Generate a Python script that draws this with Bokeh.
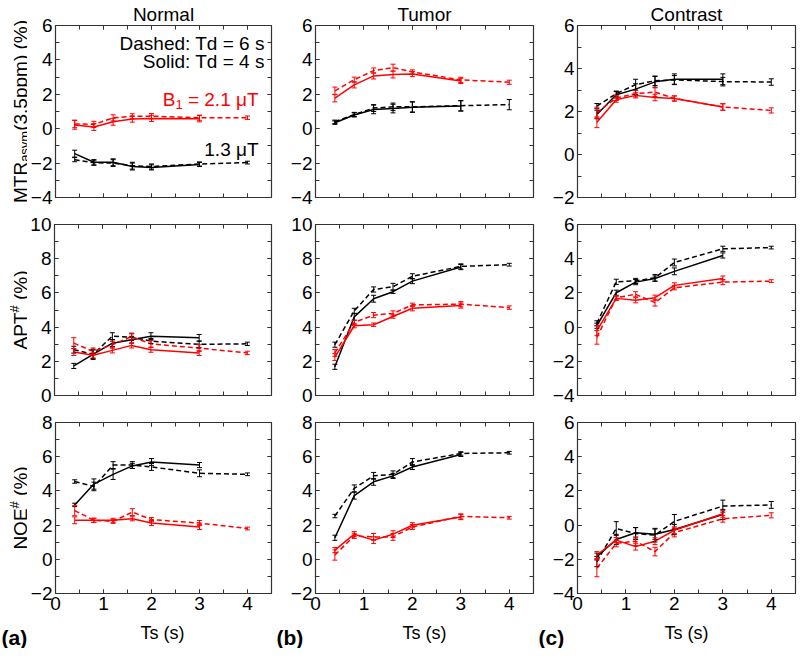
import math
from bokeh.plotting import figure
from bokeh.layouts import row, column
from bokeh.models import (Range1d, LinearAxis, FixedTicker, Label, Whisker, TeeHead, ColumnDataSource,
                          CustomJSTickFormatter)
from bokeh.embed import file_html
from bokeh.resources import INLINE

# ---------------- data ----------------
TS_TD4 = [0.4, 0.8, 1.2, 1.6, 2.0, 3.0]          # solid lines, Td = 4 s
TS_TD6 = [0.4, 0.8, 1.2, 1.6, 2.0, 3.0, 4.0]     # dashed lines, Td = 6 s
COLUMN_TITLES = ["Normal", "Tumor", "Contrast"]
PANEL_LETTERS = ["(a)", "(b)", "(c)"]
X_LABEL = "Ts (s)"
X_TICKS = [0, 1, 2, 3, 4]
X_LIMITS = (0, 4.5)
Y_LIMITS = [[(-4, 6), (-4, 6), (-2, 6)],
            [(0, 10), (0, 10), (-4, 6)],
            [(-2, 8), (-2, 8), (-4, 6)]]

# MTRasym(3.5ppm) -- row 1   (13 = 1.3 uT black, 21 = 2.1 uT red)
mtr_normal_13_td4 = [-1.45, -1.95, -1.95, -2.2, -2.25, -2.08]
mtr_normal_13_td4_err = [0.2, 0.15, 0.2, 0.2, 0.15, 0.12]
mtr_normal_13_td6 = [-1.8, -1.98, -2.0, -2.15, -2.2, -2.05, -1.97]
mtr_normal_13_td6_err = [0.12, 0.15, 0.2, 0.2, 0.15, 0.12, 0.08]
mtr_normal_21_td4 = [0.22, 0.1, 0.4, 0.56, 0.6, 0.58]
mtr_normal_21_td4_err = [0.25, 0.2, 0.2, 0.18, 0.18, 0.18]
mtr_normal_21_td6 = [0.28, 0.25, 0.63, 0.72, 0.73, 0.64, 0.64]
mtr_normal_21_td6_err = [0.22, 0.18, 0.18, 0.15, 0.15, 0.15, 0.1]

mtr_tumor_13_td4 = [0.35, 0.8, 1.12, 1.17, 1.25, 1.32]
mtr_tumor_13_td4_err = [0.1, 0.12, 0.25, 0.25, 0.3, 0.3]
mtr_tumor_13_td6 = [0.4, 0.83, 1.2, 1.27, 1.27, 1.34, 1.4]
mtr_tumor_13_td6_err = [0.1, 0.12, 0.2, 0.22, 0.3, 0.3, 0.3]
mtr_tumor_21_td4 = [1.78, 2.55, 3.07, 3.15, 3.18, 2.78]
mtr_tumor_21_td4_err = [0.22, 0.18, 0.18, 0.2, 0.15, 0.15]
mtr_tumor_21_td6 = [2.2, 2.85, 3.38, 3.55, 3.3, 2.84, 2.7]
mtr_tumor_21_td6_err = [0.22, 0.15, 0.15, 0.2, 0.12, 0.15, 0.12]

mtr_contrast_13_td4 = [1.86, 2.78, 3.04, 3.38, 3.5, 3.5]
mtr_contrast_13_td4_err = [0.2, 0.15, 0.25, 0.25, 0.25, 0.25]
mtr_contrast_13_td6 = [2.25, 2.83, 3.25, 3.43, 3.47, 3.39, 3.37]
mtr_contrast_13_td6_err = [0.12, 0.12, 0.25, 0.22, 0.2, 0.2, 0.15]
mtr_contrast_21_td4 = [1.5, 2.55, 2.75, 2.65, 2.6, 2.21]
mtr_contrast_21_td4_err = [0.25, 0.12, 0.12, 0.15, 0.12, 0.15]
mtr_contrast_21_td6 = [1.95, 2.63, 2.83, 2.9, 2.61, 2.21, 2.05]
mtr_contrast_21_td6_err = [0.25, 0.12, 0.15, 0.2, 0.12, 0.15, 0.12]

# APT# -- row 2
apt_normal_13_td4 = [1.73, 2.41, 3.06, 3.26, 3.47, 3.37]
apt_normal_13_td4_err = [0.15, 0.3, 0.2, 0.2, 0.2, 0.2]
apt_normal_13_td6 = [2.68, 2.41, 3.47, 3.41, 3.18, 2.99, 3.02]
apt_normal_13_td6_err = [0.2, 0.25, 0.2, 0.2, 0.15, 0.2, 0.1]
apt_normal_21_td4 = [2.54, 2.35, 2.64, 2.93, 2.68, 2.49]
apt_normal_21_td4_err = [0.2, 0.15, 0.15, 0.15, 0.15, 0.15]
apt_normal_21_td6 = [3.06, 2.58, 2.97, 3.45, 3.02, 2.77, 2.49]
apt_normal_21_td6_err = [0.32, 0.2, 0.2, 0.2, 0.2, 0.2, 0.1]

apt_tumor_13_td4 = [1.68, 4.6, 5.66, 6.07, 6.69, 7.51]
apt_tumor_13_td4_err = [0.15, 0.2, 0.2, 0.1, 0.15, 0.15]
apt_tumor_13_td6 = [2.97, 4.95, 6.2, 6.36, 6.97, 7.55, 7.65]
apt_tumor_13_td6_err = [0.15, 0.15, 0.15, 0.2, 0.15, 0.15, 0.08]
apt_tumor_21_td4 = [2.25, 4.08, 4.14, 4.62, 5.1, 5.26]
apt_tumor_21_td4_err = [0.2, 0.12, 0.1, 0.1, 0.15, 0.15]
apt_tumor_21_td6 = [2.49, 4.28, 4.7, 4.8, 5.3, 5.34, 5.14]
apt_tumor_21_td6_err = [0.2, 0.12, 0.15, 0.15, 0.1, 0.15, 0.1]

apt_contrast_13_td4 = [0.08, 2.01, 2.63, 2.84, 3.26, 4.19]
apt_contrast_13_td4_err = [0.15, 0.15, 0.15, 0.15, 0.2, 0.15]
apt_contrast_13_td6 = [0.22, 2.65, 2.7, 2.88, 3.78, 4.58, 4.65]
apt_contrast_13_td6_err = [0.15, 0.15, 0.15, 0.2, 0.2, 0.15, 0.08]
apt_contrast_21_td4 = [-0.2, 1.68, 1.57, 1.72, 2.44, 2.84]
apt_contrast_21_td4_err = [0.3, 0.12, 0.15, 0.15, 0.15, 0.15]
apt_contrast_21_td6 = [-0.6, 1.72, 1.92, 1.43, 2.3, 2.63, 2.69]
apt_contrast_21_td6_err = [0.4, 0.12, 0.15, 0.2, 0.12, 0.15, 0.08]

# NOE# -- row 3
noe_normal_13_td4 = [3.18, 4.4, 4.97, 5.46, 5.69, 5.51]
noe_normal_13_td4_err = [0.1, 0.3, 0.3, 0.15, 0.2, 0.15]
noe_normal_13_td6 = [4.55, 4.26, 5.51, 5.51, 5.4, 5.03, 4.97]
noe_normal_13_td6_err = [0.1, 0.25, 0.2, 0.2, 0.2, 0.2, 0.08]
noe_normal_21_td4 = [2.28, 2.28, 2.28, 2.37, 2.12, 1.89]
noe_normal_21_td4_err = [0.2, 0.12, 0.12, 0.12, 0.15, 0.15]
noe_normal_21_td6 = [2.85, 2.28, 2.22, 2.76, 2.32, 2.12, 1.8]
noe_normal_21_td6_err = [0.3, 0.12, 0.12, 0.2, 0.12, 0.15, 0.08]

noe_tumor_13_td4 = [1.26, 3.72, 4.53, 4.88, 5.4, 6.13]
noe_tumor_13_td4_err = [0.15, 0.2, 0.2, 0.15, 0.15, 0.12]
noe_tumor_13_td6 = [2.53, 4.15, 4.88, 4.97, 5.69, 6.19, 6.23]
noe_tumor_13_td6_err = [0.1, 0.2, 0.2, 0.2, 0.2, 0.1, 0.08]
noe_tumor_21_td4 = [0.54, 1.47, 1.12, 1.47, 1.99, 2.47]
noe_tumor_21_td4_err = [0.15, 0.15, 0.2, 0.2, 0.15, 0.15]
noe_tumor_21_td6 = [0.25, 1.37, 1.31, 1.31, 1.89, 2.51, 2.43]
noe_tumor_21_td6_err = [0.3, 0.15, 0.2, 0.2, 0.15, 0.15, 0.08]

noe_contrast_13_td4 = [-1.84, -0.84, -0.45, -0.53, -0.26, 0.62]
noe_contrast_13_td4_err = [0.2, 0.3, 0.3, 0.3, 0.3, 0.3]
noe_contrast_13_td6 = [-2.13, -0.2, -0.49, -0.59, 0.22, 1.11, 1.18]
noe_contrast_13_td6_err = [0.3, 0.4, 0.35, 0.4, 0.4, 0.35, 0.2]
noe_contrast_21_td4 = [-1.75, -0.88, -1.26, -0.94, -0.3, 0.66]
noe_contrast_21_td4_err = [0.2, 0.15, 0.2, 0.2, 0.2, 0.2]
noe_contrast_21_td6 = [-2.52, -1.07, -0.94, -1.55, -0.44, 0.37, 0.57]
noe_contrast_21_td6_err = [0.5, 0.2, 0.25, 0.25, 0.25, 0.2, 0.15]

PANELS = [
    [(mtr_normal_13_td4, mtr_normal_13_td4_err, mtr_normal_13_td6, mtr_normal_13_td6_err,
      mtr_normal_21_td4, mtr_normal_21_td4_err, mtr_normal_21_td6, mtr_normal_21_td6_err),
     (mtr_tumor_13_td4, mtr_tumor_13_td4_err, mtr_tumor_13_td6, mtr_tumor_13_td6_err,
      mtr_tumor_21_td4, mtr_tumor_21_td4_err, mtr_tumor_21_td6, mtr_tumor_21_td6_err),
     (mtr_contrast_13_td4, mtr_contrast_13_td4_err, mtr_contrast_13_td6, mtr_contrast_13_td6_err,
      mtr_contrast_21_td4, mtr_contrast_21_td4_err, mtr_contrast_21_td6, mtr_contrast_21_td6_err)],
    [(apt_normal_13_td4, apt_normal_13_td4_err, apt_normal_13_td6, apt_normal_13_td6_err,
      apt_normal_21_td4, apt_normal_21_td4_err, apt_normal_21_td6, apt_normal_21_td6_err),
     (apt_tumor_13_td4, apt_tumor_13_td4_err, apt_tumor_13_td6, apt_tumor_13_td6_err,
      apt_tumor_21_td4, apt_tumor_21_td4_err, apt_tumor_21_td6, apt_tumor_21_td6_err),
     (apt_contrast_13_td4, apt_contrast_13_td4_err, apt_contrast_13_td6, apt_contrast_13_td6_err,
      apt_contrast_21_td4, apt_contrast_21_td4_err, apt_contrast_21_td6, apt_contrast_21_td6_err)],
    [(noe_normal_13_td4, noe_normal_13_td4_err, noe_normal_13_td6, noe_normal_13_td6_err,
      noe_normal_21_td4, noe_normal_21_td4_err, noe_normal_21_td6, noe_normal_21_td6_err),
     (noe_tumor_13_td4, noe_tumor_13_td4_err, noe_tumor_13_td6, noe_tumor_13_td6_err,
      noe_tumor_21_td4, noe_tumor_21_td4_err, noe_tumor_21_td6, noe_tumor_21_td6_err),
     (noe_contrast_13_td4, noe_contrast_13_td4_err, noe_contrast_13_td6, noe_contrast_13_td6_err,
      noe_contrast_21_td4, noe_contrast_21_td4_err, noe_contrast_21_td6, noe_contrast_21_td6_err)],
]

# ---------------- style / layout ----------------
FONT = "Liberation Sans"
RED = "#ff0000"
BLACK = "#000000"
AXIS_COLOR = "#333333"
FRAME_W = 218
FRAME_H = [172, 171, 171]
STRIP_W = 27                      # strip holding the rotated y-axis titles
COL_LEFT = [26, 40, 40]
COL_RIGHT = [4, 4, 4]
ROW_TOP = [25, 14, 14]
ROW_BOTTOM = [13, 13, 25]
BOTTOM_STRIP_H = 30               # strip holding "Ts (s)" and panel letters
TOTAL_W = STRIP_W + sum(COL_LEFT) + sum(COL_RIGHT) + 3 * FRAME_W
NBSP = "\u00a0"

# Arial / Liberation Sans advance widths (1/1000 em) for composing sub/superscripts
ADV = {'M': 833, 'T': 611, 'R': 722, 'a': 556, 's': 500, 'y': 500, 'm': 833, '(': 333, ')': 333,
       '3': 556, '.': 278, '5': 556, 'p': 556, ' ': 278, NBSP: 278, '%': 889, 'A': 667, 'P': 667,
       '#': 556, 'N': 722, 'O': 778, 'E': 667, 'B': 667, '=': 584, '2': 556, '1': 556, 'μ': 577}


def text_w(s, size):
    return sum(ADV.get(ch, 556) for ch in s) * size / 1000.0


def style_axis(ax, show_labels):
    ax.axis_line_color = None
    ax.major_tick_in = 4
    ax.major_tick_out = 0
    ax.minor_tick_in = 4
    ax.minor_tick_out = 0
    ax.major_tick_line_color = AXIS_COLOR
    ax.minor_tick_line_color = AXIS_COLOR
    ax.major_label_text_font = FONT
    ax.major_label_text_color = "black"
    if show_labels:
        ax.major_label_text_font_size = "19px"
        ax.major_label_standoff = 3
    else:
        ax.formatter = CustomJSTickFormatter(code="return ''")
        ax.major_label_text_font_size = "0px"
        ax.major_label_standoff = 0


def x_ticker():
    return FixedTicker(ticks=X_TICKS, minor_ticks=[0.5 * i for i in range(10)])


def y_ticker(lo, hi):
    return FixedTicker(ticks=list(range(lo, hi + 1, 2)), minor_ticks=list(range(lo, hi + 1)))


def add_series(p, xs, ys, errs, color, dashed):
    src = ColumnDataSource(dict(x=xs, y=ys,
                                lo=[y - e for y, e in zip(ys, errs)],
                                hi=[y + e for y, e in zip(ys, errs)]))
    p.line("x", "y", source=src, line_color=color, line_width=1.5,
           line_dash="5 3" if dashed else "solid")
    p.add_layout(Whisker(source=src, base="x", lower="lo", upper="hi", dimension="height",
                         line_color=color, line_width=1, level="glyph",
                         upper_head=TeeHead(size=5, line_color=color, line_width=1),
                         lower_head=TeeHead(size=5, line_color=color, line_width=1)))


def text_figure(width, height):
    f = figure(width=width, height=height, x_range=Range1d(0, 1), y_range=Range1d(0, 1),
               output_backend="svg", toolbar_location=None, tools="", title=None,
               x_axis_location=None, y_axis_location=None, min_border=0)
    f.frame_align = False
    f.outline_line_color = None
    f.xgrid.visible = False
    f.ygrid.visible = False
    f.background_fill_color = "white"
    f.border_fill_color = "white"
    return f


YLABELS = [
    [("MTR", 19, 0), ("asym", 13, -4), ("(3.5ppm)" + NBSP + "(%)", 19, 0)],
    [("APT", 19, 0), ("#", 13, 6), (NBSP + "(%)", 19, 0)],
    [("NOE", 19, 0), ("#", 13, 6), (NBSP + "(%)", 19, 0)],
]


def ylabel_strip(r):
    h = ROW_TOP[r] + FRAME_H[r] + ROW_BOTTOM[r]
    f = text_figure(STRIP_W, h)
    pieces = YLABELS[r]
    total = sum(text_w(t, s) for t, s, _ in pieces)
    y = ROW_BOTTOM[r] + FRAME_H[r] / 2.0 - total / 2.0
    base_x = 20
    for t, s, shift in pieces:
        f.add_layout(Label(x=base_x - shift, y=y, x_units="screen", y_units="screen", text=t,
                           angle=math.pi / 2, text_align="left", text_baseline="alphabetic",
                           text_font=FONT, text_font_size=f"{s}px", text_color="black"))
        y += text_w(t, s)
    return f


rows = []
for r in range(3):
    figs = [ylabel_strip(r)]
    for c in range(3):
        lo, hi = Y_LIMITS[r][c]
        p = figure(width=COL_LEFT[c] + FRAME_W + COL_RIGHT[c],
                   height=ROW_TOP[r] + FRAME_H[r] + ROW_BOTTOM[r],
                   x_range=Range1d(*X_LIMITS), y_range=Range1d(lo, hi),
                   output_backend="svg", toolbar_location=None, tools="",
                   title=COLUMN_TITLES[c] if r == 0 else None,
                   min_border_left=COL_LEFT[c], min_border_right=COL_RIGHT[c],
                   min_border_top=ROW_TOP[r], min_border_bottom=ROW_BOTTOM[r])
        p.background_fill_color = "white"
        p.border_fill_color = "white"
        p.xgrid.visible = False
        p.ygrid.visible = False
        p.outline_line_color = AXIS_COLOR
        p.outline_line_width = 1.2
        if r == 0:
            p.title.align = "center"
            p.title.text_font = FONT
            p.title.text_font_size = "19px"
            p.title.text_font_style = "normal"
            p.title.text_color = "black"
            p.title.standoff = 1
        bottom_ax = p.below[0]
        left_ax = p.left[0]
        bottom_ax.ticker = x_ticker()
        left_ax.ticker = y_ticker(lo, hi)
        style_axis(bottom_ax, r == 2)
        style_axis(left_ax, True)
        top_ax = LinearAxis(ticker=x_ticker())
        right_ax = LinearAxis(ticker=y_ticker(lo, hi))
        style_axis(top_ax, False)
        style_axis(right_ax, False)
        p.add_layout(top_ax, "above")
        p.add_layout(right_ax, "right")

        k4, k4e, k6, k6e, r4, r4e, r6, r6e = PANELS[r][c]
        add_series(p, TS_TD6, k6, k6e, BLACK, True)
        add_series(p, TS_TD4, k4, k4e, BLACK, False)
        add_series(p, TS_TD6, r6, r6e, RED, True)
        add_series(p, TS_TD4, r4, r4e, RED, False)

        if r == 0 and c == 0:
            common = dict(text_font=FONT, text_font_size="19px", text_align="right",
                          text_baseline="middle")
            p.add_layout(Label(x=4.36, y=4.97, text="Dashed: Td = 6 s", text_color="black", **common))
            p.add_layout(Label(x=4.36, y=3.93, text="Solid: Td = 4 s", text_color="black", **common))
            tail = NBSP + "=" + NBSP + "2.1" + NBSP + "μT"
            w_tail = text_w(tail, 19)
            w_sub = text_w("1", 13)
            p.add_layout(Label(x=4.23, y=1.7, text=tail, text_color=RED, **common))
            p.add_layout(Label(x=4.23, y=1.7, x_offset=-w_tail, y_offset=-5, text="1", text_color=RED,
                               text_font=FONT, text_font_size="13px", text_align="right",
                               text_baseline="middle"))
            p.add_layout(Label(x=4.23, y=1.7, x_offset=-(w_tail + w_sub), text="B", text_color=RED, **common))
            p.add_layout(Label(x=4.23, y=-1.2, text="1.3 μT", text_color="black", **common))
        figs.append(p)
    rows.append(row(*figs))

# bottom strip: x-axis titles and panel letters
bottom = text_figure(TOTAL_W, BOTTOM_STRIP_H)
frame_left = STRIP_W
for c in range(3):
    frame_left += COL_LEFT[c]
    bottom.add_layout(Label(x=frame_left + FRAME_W / 2.0, y=16, x_units="screen", y_units="screen",
                            text=X_LABEL, text_align="center", text_baseline="alphabetic",
                            text_font=FONT, text_font_size="18px", text_color="black"))
    letter_x = 1 if c == 0 else frame_left - 39
    bottom.add_layout(Label(x=letter_x, y=11, x_units="screen", y_units="screen",
                            text=PANEL_LETTERS[c], text_align="left", text_baseline="alphabetic",
                            text_font=FONT, text_font_size="21px", text_font_style="bold",
                            text_color="black"))
    frame_left += FRAME_W + COL_RIGHT[c]

layout = column(*rows, bottom)
open("out.html", "w").write(file_html(layout, INLINE))
